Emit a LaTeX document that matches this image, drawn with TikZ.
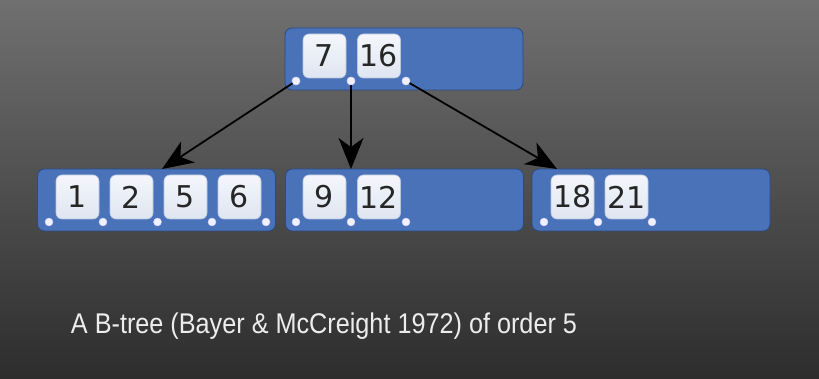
\documentclass[tikz,border=0pt]{standalone}
\usepackage{graphicx}
\usepackage{fontspec}
\setmainfont{Liberation Sans}
\newfontfamily\keyfont{DejaVu Sans}
\usetikzlibrary{arrows.meta}

\definecolor{bgtop}{HTML}{707070}
\definecolor{bgbottom}{HTML}{2D2D2D}
\definecolor{nodeblue}{HTML}{4A72B9}
\definecolor{nodeedge}{HTML}{2B4A80}
\definecolor{keytop}{HTML}{F4F6FB}
\definecolor{keybottom}{HTML}{DFE5F1}
\definecolor{keyedge}{HTML}{B9C6E0}
\definecolor{caption}{HTML}{EDEDED}

\tikzset{
  btnode/.style={rectangle, rounded corners=7pt, draw=nodeedge, line width=0.8pt,
    fill=nodeblue, minimum width=238pt, minimum height=62pt, inner sep=0pt},
  keybox/.style={rectangle, rounded corners=6pt, draw=keyedge, line width=0.6pt,
    top color=keytop, bottom color=keybottom, minimum width=43pt, minimum height=44pt,
    inner sep=0pt, font=\keyfont\fontsize{30}{30}\selectfont, text=black!85},
  ptr/.style={circle, fill=white!94!blue, draw=white!80!blue, line width=0.4pt,
    minimum size=8pt, inner sep=0pt},
  link/.style={line width=1.8pt, black, -{Stealth[length=31pt,width=25pt,inset=9pt]}},
}

\begin{document}
\begin{tikzpicture}[x=1pt,y=-1pt]
  % backdrop
  \useasboundingbox (0,0) rectangle (819,379);
  \shade[top color=bgtop, bottom color=bgbottom] (0,0) rectangle (819,379);

  % root
  \node[btnode] (root) at (404,59) {};
  \node[keybox] (r7)  at (324.5,56) {7};
  \node[keybox] (r16) at (379,56) {16};
  \node[ptr] (rp0) at (296,81) {};
  \node[ptr] (rp1) at (351,81) {};
  \node[ptr] (rp2) at (406,81) {};

  % leaf 1
  \node[btnode] (la) at (156.5,200) {};
  \node[keybox] (a1) at (77.5,197) {1};
  \node[keybox] (a2) at (131.5,197) {2};
  \node[keybox] (a5) at (185.5,197) {5};
  \node[keybox] (a6) at (239.5,197) {6};
  \node[ptr] (ap0) at (49,222) {};
  \node[ptr] (ap1) at (103,222) {};
  \node[ptr] (ap2) at (157.5,222) {};
  \node[ptr] (ap3) at (212,222) {};
  \node[ptr] (ap4) at (266,222) {};

  % leaf 2
  \node[btnode] (lb) at (404.5,200) {};
  \node[keybox] (b9)  at (324.5,197) {9};
  \node[keybox] (b12) at (379,197) {12};
  \node[ptr] (bp0) at (296,222) {};
  \node[ptr] (bp1) at (351,222) {};
  \node[ptr] (bp2) at (406,222) {};

  % leaf 3
  \node[btnode] (lc) at (651,200) {};
  \node[keybox] (c18) at (572.5,197) {18};
  \node[keybox] (c21) at (626.5,197) {21};
  \node[ptr] (cp0) at (544,222) {};
  \node[ptr] (cp1) at (598,222) {};
  \node[ptr] (cp2) at (652,222) {};

  % child pointers
  \coordinate (ta) at (162,169);
  \coordinate (tb) at (351,169);
  \coordinate (tc) at (557,169);
  \draw[link] (rp0.center) -- (ta);
  \draw[link] (rp1.center) -- (tb);
  \draw[link] (rp2.center) -- (tc);
  \node[ptr] at (rp0) {};
  \node[ptr] at (rp1) {};
  \node[ptr] at (rp2) {};

  % caption
  \node[text=caption, font=\fontsize{28.5}{30}\selectfont, inner sep=0pt, anchor=base]
    (cap) at (324,333) {\scalebox{0.885}[1]{A B-tree (Bayer \& McCreight 1972) of order 5}};
\end{tikzpicture}
\end{document}
